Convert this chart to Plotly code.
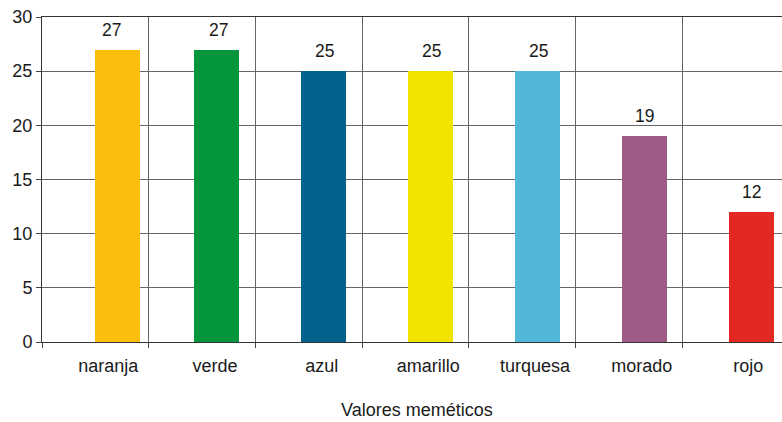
import plotly.graph_objects as go

categories = ["naranja", "verde", "azul", "amarillo", "turquesa", "morado", "rojo"]
values = [27, 27, 25, 25, 25, 19, 12]
colors = ["#FBBE0F", "#03963B", "#03628D", "#F1E500", "#52B6D6", "#9D5B86", "#E32822"]
bar_offsets = [0.0, -0.075, -0.072, -0.069, -0.066, -0.063, -0.063]
y_ticks = [0, 5, 10, 15, 20, 25, 30]
x_title = "Valores meméticos"

FONT = "Liberation Sans, Arial, Helvetica, sans-serif"
TXT = "#1a1a1a"

fig = go.Figure()
fig.add_trace(go.Bar(
    x=categories, y=values,
    marker=dict(color=colors, line=dict(width=0)),
    width=0.422, offset=bar_offsets,
    hoverinfo="skip",
))

for c, v in zip(categories, values):
    fig.add_annotation(x=c, y=v, text=str(v), showarrow=False,
                       xref="x", yref="y", xshift=16, yshift=20,
                       yanchor="middle", xanchor="center",
                       font=dict(family=FONT, size=17.5, color=TXT))

fig.add_annotation(x=(417 - 42) / 740, y=-(421 - 342) / 325, xref="paper", yref="paper",
                   text=x_title, showarrow=False, borderpad=0,
                   yanchor="bottom", xanchor="center",
                   font=dict(family=FONT, size=18, color=TXT))

fig.update_layout(
    width=782, height=422,
    margin=dict(l=42, r=0, t=17, b=80, pad=0),
    paper_bgcolor="white", plot_bgcolor="white",
    showlegend=False,
    font=dict(family=FONT, size=18, color=TXT),
    bargap=0,
)
fig.update_xaxes(
    type="category", range=[-0.5, 6.4375],
    tickson="boundaries", ticks="outside", ticklen=5, tickcolor="#444", tickwidth=1,
    showgrid=True, gridcolor="#666", gridwidth=1,
    showline=True, linecolor="#333", linewidth=1, mirror=True,
    ticklabelshift=13, ticklabelstandoff=7,
    tickfont=dict(family=FONT, size=18, color=TXT),
    fixedrange=True,
)
fig.update_yaxes(
    range=[0, 30], tickvals=y_ticks, ticks="outside", ticklen=5, tickcolor="#444",
    showgrid=True, gridcolor="#666", gridwidth=1,
    showline=True, linecolor="#333", linewidth=1,
    zeroline=False,
    tickfont=dict(family=FONT, size=18, color=TXT),
    fixedrange=True,
)

fig.write_html("out.html", config={"displayModeBar": False})
